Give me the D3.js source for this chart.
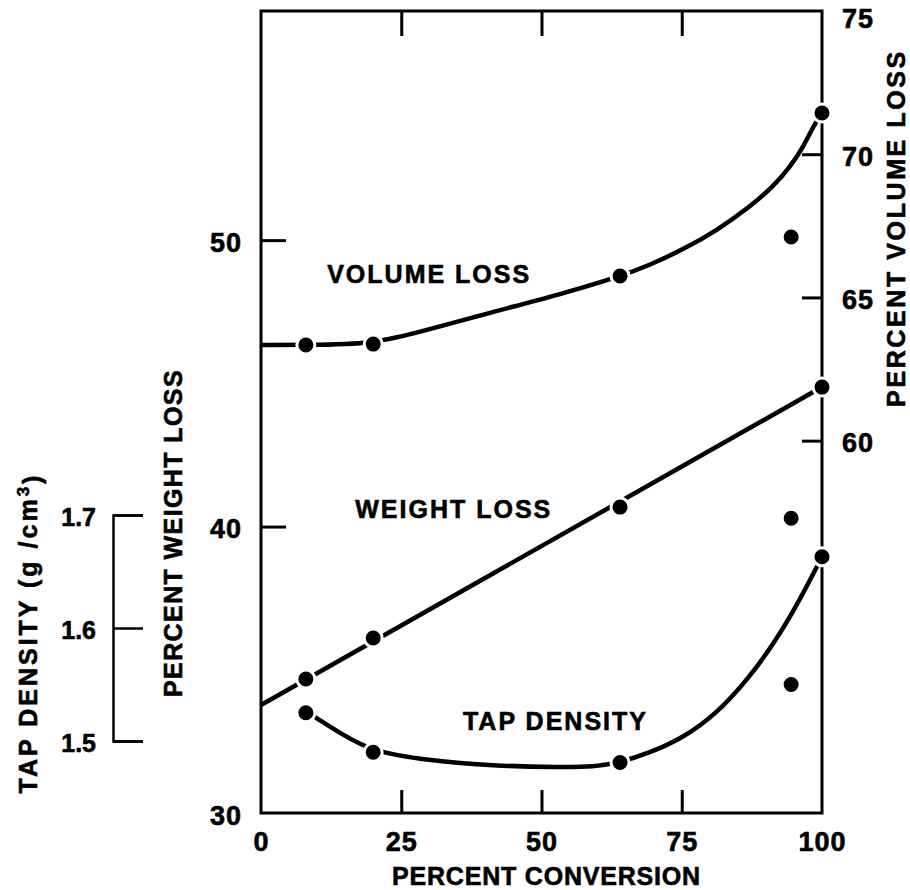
<!DOCTYPE html>
<html><head><meta charset="utf-8">
<script src="https://cdn.jsdelivr.net/npm/d3@7"></script>
<style>
html,body{margin:0;padding:0;background:#fff;}
svg text{font-family:"Liberation Sans",Arial,sans-serif;font-weight:bold;fill:#000;stroke:#000;stroke-width:0.6px;}
</style></head>
<body><svg id="c" width="910" height="890"></svg>
<script>
// ---- data ----
const conversion = [8, 20, 64, 94.5, 100];
const weightLoss = [34.68, 36.11, 40.68, 40.29, 44.87];
const volumeLoss = [63.34, 63.37, 65.75, 67.11, 71.44];
const tapDensity = [1.525, 1.490, 1.481, 1.550, 1.663];

// hand-drawn fitted curves
const weightFitX = [0, 100];
const weightFitY = [33.77, 44.87];
const volumeFitX = [0, 8, 20, 29.5, 41.4, 53.3, 64.3, 69.3, 75.3, 81.2, 87.2, 91.3, 94.3, 96.7, 98.4, 100];
const volumeFitY = [63.34, 63.34, 63.37, 63.86, 64.5, 65.1, 65.75, 66.13, 66.68, 67.33, 68.17, 68.87, 69.56, 70.26, 70.96, 71.44];
const tapFitX = [8.1, 14.7, 20, 29.5, 41.4, 53.3, 59.2, 64, 69.3, 75.3, 81.2, 87.2, 91.9, 94.9, 97.3, 100];
const tapFitY = [1.526, 1.505, 1.4905, 1.483, 1.478, 1.4767, 1.477, 1.481, 1.4895, 1.503, 1.524, 1.557, 1.590, 1.615, 1.637, 1.663];

const xTicks = [0, 25, 50, 75, 100];
const weightTicks = [30, 40, 50];
const volumeTicks = [60, 65, 70, 75];
const tapTicks = [1.5, 1.6, 1.7];
const curveLabels = ["VOLUME LOSS", "WEIGHT LOSS", "TAP DENSITY"];
const xTitle = "PERCENT CONVERSION";
const weightTitle = "PERCENT WEIGHT LOSS";
const volumeTitle = "PERCENT VOLUME LOSS";

// ---- layout ----
const svg = d3.select("#c");
const L = 261, R = 822, T = 11, B = 813;
const x = d3.scaleLinear().domain([0, 100]).range([L, R]);
const yW = d3.scaleLinear().domain([30, 58]).range([B, T]);
const yV = d3.scaleLinear().domain([47, 75]).range([B, T]);
const yT = d3.scaleLinear().domain([1.4363, 2.146]).range([B, T]);

// frame
svg.append("rect").attr("x", L).attr("y", T).attr("width", R - L).attr("height", B - T)
  .attr("fill", "none").attr("stroke", "#000").attr("stroke-width", 3);

function styleAxis(g, fs, ls) {
  g.select(".domain").remove();
  g.selectAll(".tick line").attr("stroke", "#000").attr("stroke-width", 3);
  g.selectAll("text").style("font-size", fs + "px").style("letter-spacing", ls + "px")
    .style("font-family", "'Liberation Sans',Arial,sans-serif").style("font-weight", "bold")
    .style("stroke", "#000").style("stroke-width", "0.6px");
}

// bottom axis
const gx = svg.append("g").attr("transform", `translate(0,${B})`)
  .call(d3.axisBottom(x).tickValues(xTicks).tickSize(-23).tickSizeOuter(0).tickPadding(19).tickFormat(d3.format("d")));
styleAxis(gx, 27, 1);
gx.selectAll(".tick").filter(d => d === 0 || d === 100).select("line").remove();

// top axis (ticks only)
const gt = svg.append("g").attr("transform", `translate(0,${T})`)
  .call(d3.axisTop(x).tickValues([25, 50, 75]).tickSize(-25).tickSizeOuter(0).tickFormat(""));
styleAxis(gt, 27, 0);

// left axis (weight)
const gl = svg.append("g").attr("transform", `translate(${L},0)`)
  .call(d3.axisLeft(yW).tickValues(weightTicks).tickSize(-25).tickSizeOuter(0).tickPadding(19));
styleAxis(gl, 27, 1);
gl.selectAll("text").attr("dy", "0.42em");
gl.selectAll(".tick").filter(d => d === 30).select("line").remove();

// right axis (volume)
const gr = svg.append("g").attr("transform", `translate(${R},0)`)
  .call(d3.axisRight(yV).tickValues(volumeTicks).tickSize(-20).tickSizeOuter(0).tickPadding(20));
styleAxis(gr, 27, 1);
gr.selectAll("text").attr("dy", "0.42em");
gr.selectAll(".tick").filter(d => d === 75).select("line").remove();
gr.selectAll(".tick").filter(d => d === 75).select("text").attr("dy", "0.62em");

// tap density bracket axis
const tapAxisScale = d3.scaleLinear().domain([1.5, 1.7]).range([yT(1.5), yT(1.7)]);
const gtap = svg.append("g").attr("transform", "translate(113,0)")
  .call(d3.axisLeft(tapAxisScale).tickValues(tapTicks).tickSize(-30).tickSizeOuter(-30).tickPadding(17).tickFormat(d3.format(".1f")));
gtap.select(".domain").attr("stroke", "#000").attr("stroke-width", 2.5).attr("fill", "none");
gtap.selectAll(".tick line").attr("stroke", "#000").attr("stroke-width", 2.5);
gtap.selectAll("text").style("font-size", "25px").style("letter-spacing", "0px")
  .style("font-family", "'Liberation Sans',Arial,sans-serif").style("font-weight", "bold")
  .style("stroke", "#000").style("stroke-width", "0.6px").attr("dy", "0.4em");

// fitted curves
const lineW = d3.line().x((d, i) => x(weightFitX[i])).y(d => yW(d));
svg.append("path").attr("d", lineW(weightFitY)).attr("fill", "none").attr("stroke", "#000").attr("stroke-width", 4.5);
const lineV = d3.line().x((d, i) => x(volumeFitX[i])).y(d => yV(d)).curve(d3.curveBasis);
svg.append("path").attr("d", lineV(volumeFitY)).attr("fill", "none").attr("stroke", "#000").attr("stroke-width", 4.5);
const lineT = d3.line().x((d, i) => x(tapFitX[i])).y(d => yT(d)).curve(d3.curveBasis);
svg.append("path").attr("d", lineT(tapFitY)).attr("fill", "none").attr("stroke", "#000").attr("stroke-width", 4.5);

// data points
function dots(vals, sc) {
  svg.append("g").selectAll("circle").data(vals).join("circle")
    .attr("cx", (d, i) => x(conversion[i])).attr("cy", d => sc(d)).attr("r", 9)
    .attr("fill", "#000").attr("stroke", "#fff").attr("stroke-width", 3);
}
dots(volumeLoss, yV);
dots(weightLoss, yW);
dots(tapDensity, yT);

// curve labels
const lab = svg.append("g").style("font-size", "25px").style("letter-spacing", "2px");
lab.append("text").attr("x", x(11.8)).attr("y", yV(65.5)).text(curveLabels[0]);
lab.append("text").attr("x", x(16.8)).attr("y", yW(40.3)).text(curveLabels[1]);
lab.append("text").attr("x", x(36)).attr("y", yT(1.51)).text(curveLabels[2]);

// axis titles
svg.append("text").attr("x", (x(0) + x(100)) / 2 + 5).attr("y", 885).attr("text-anchor", "middle")
  .style("font-size", "25px").style("letter-spacing", "0.8px").text(xTitle);
svg.append("text").attr("transform", "translate(182,533) rotate(-90)").attr("text-anchor", "middle")
  .style("font-size", "25px").style("letter-spacing", "1.4px").text(weightTitle);
svg.append("text").attr("transform", "translate(905,228) rotate(-90)").attr("text-anchor", "middle")
  .style("font-size", "25px").style("letter-spacing", "2.6px").text(volumeTitle);
const tapT = svg.append("text").attr("transform", "translate(37,633) rotate(-90)").attr("text-anchor", "middle")
  .style("font-size", "25px").style("letter-spacing", "3px");
tapT.append("tspan").text("TAP DENSITY (g /cm");
tapT.append("tspan").attr("dy", "-0.45em").style("font-size", "17px").text("3");
tapT.append("tspan").attr("dy", "0.45em").text(")");
</script></body></html>
